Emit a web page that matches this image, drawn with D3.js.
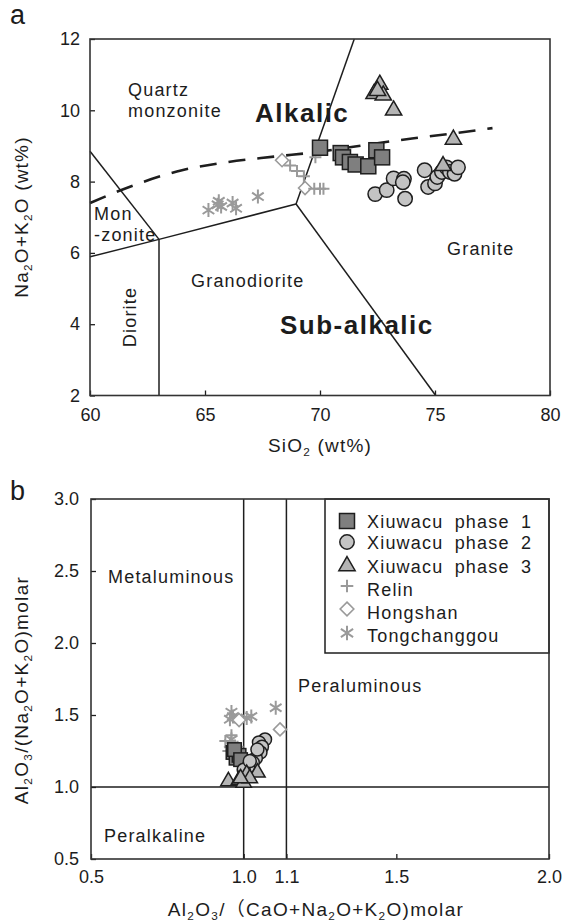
<!DOCTYPE html>
<html><head><meta charset="utf-8">
<script src="https://cdn.jsdelivr.net/npm/d3@7"></script>
<style>
body{margin:0;background:#fff}
svg text{font-family:"Liberation Sans",Arial,"Noto Sans CJK SC",sans-serif;fill:#1c1c1c}
</style>
</head><body>
<svg id="c" width="573" height="924"></svg>
<script>
// ---------- Panel a data (SiO2 wt%, Na2O+K2O wt%) ----------
const phase1A = [[70.0,8.95],[70.9,8.8],[71.0,8.68],[71.3,8.55],[71.55,8.48],[72.1,8.43],[72.45,8.88],[72.7,8.68]];
const phase2A = [[72.4,7.65],[72.9,7.76],[73.2,8.09],[73.65,8.08],[73.6,7.98],[73.7,7.52],[74.55,8.32],[74.7,7.85],[75.0,7.95],[75.1,8.13],[75.3,8.27],[75.5,8.4],[75.65,8.27],[75.85,8.22],[76.0,8.4]];
const phase3A = [[72.6,10.72],[72.35,10.46],[72.75,10.42],[72.5,10.55],[73.2,10.0],[75.8,9.18],[75.35,8.44]];
const relinA = [[68.7,8.45],[69.0,8.3],[69.3,8.15],[69.8,8.68],[69.75,7.8],[70.0,7.8],[70.15,7.8]];
const hongshanA = [[68.35,8.6],[69.35,7.82]];
const tongA = [[65.15,7.2],[65.6,7.45],[65.7,7.3],[65.55,7.35],[66.2,7.4],[66.35,7.25],[67.3,7.58]];
// TAS field boundaries and alkaline / sub-alkaline curve
const tasLines = [
  [[60,8.85],[63,6.38]],
  [[60,5.89],[63,6.38],[68.96,7.37]],
  [[63,6.38],[63,2]],
  [[68.96,7.37],[71.49,12]],
  [[68.96,7.37],[75.03,2]]
];
const alkalineCurve = [[60,7.40],[62,7.92],[64,8.32],[66,8.55],[68,8.70],[70,8.84],[72,9.03],[74,9.21],[76,9.37],[77.5,9.5]];
const xTicksA = [60,65,70,75,80];
const yTicksA = [2,4,6,8,10,12];

// ---------- Panel b data (A/CNK, A/NK) ----------
const phase1B = [[0.965,1.24],[0.975,1.2],[0.985,1.22],[0.97,1.26],[0.99,1.19]];
const phase2B = [[1.07,1.33],[1.05,1.31],[1.06,1.28],[1.055,1.24],[1.04,1.2],[1.03,1.17],[1.015,1.14],[1.0,1.12],[1.045,1.26],[1.02,1.18]];
const phase3B = [[0.95,1.04],[0.985,1.05],[1.0,1.03],[1.01,1.09],[1.045,1.1],[1.02,1.06],[0.99,1.06]];
const relinB = [[0.94,1.32],[0.96,1.36],[0.98,1.28],[0.95,1.25]];
const hongshanB = [[1.119,1.4],[0.985,1.465]];
const tongB = [[0.96,1.52],[0.955,1.47],[0.965,1.49],[1.01,1.48],[1.025,1.49],[1.105,1.55],[0.96,1.33],[0.955,1.3]];
const xLinesB = [1.0, 1.14];
const yLinesB = [1.0];
const xTicksB = [0.5,1.0,1.14,1.5,2.0];
const xTickLabelsB = ["0.5","1.0","1.1","1.5","2.0"];
const yTicksB = [0.5,1.0,1.5,2.0,2.5,3.0];
const legendNames = ["Xiuwacu phase 1","Xiuwacu phase 2","Xiuwacu phase 3","Relin","Hongshan","Tongchanggou"];

const svg = d3.select("#c");
const FS = 18;

// symbol drawing
const dark = "#1e1e1e", grey = "#9a9a9a";
function plusPath(s){return `M${-s},0H${s}M0,${-s}V${s}`;}
function diamondPath(s){return `M0,${-s}L${s},0L0,${s}L${-s},0Z`;}
function asteriskPath(s){
  const a = s*Math.sin(Math.PI/3.2), b = s*Math.cos(Math.PI/3.2);
  return `M0,${-s}V${s}M${-a},${-b}L${a},${b}M${-a},${b}L${a},${-b}`;
}
const styles = [
  {kind:"square"},{kind:"circle"},{kind:"triangle"},
  {kind:"plus"},{kind:"diamond"},{kind:"asterisk"}
];
function drawSym(g, kind, x, y, k){
  k = k||1;
  if(kind==="square") g.append("rect").attr("x",x-7.5*k).attr("y",y-7.5*k).attr("width",15*k).attr("height",15*k).attr("fill","#7f7f7f").attr("stroke",dark).attr("stroke-width",1.5);
  else if(kind==="circle") g.append("circle").attr("cx",x).attr("cy",y).attr("r",7.2*k).attr("fill","#c4c4c4").attr("stroke",dark).attr("stroke-width",1.5);
  else if(kind==="triangle") g.append("path").attr("transform",`translate(${x},${y})`).attr("d",d3.symbol(d3.symbolTriangle, 115*k*k)()).attr("fill","#b4b4b4").attr("stroke",dark).attr("stroke-width",1.5).attr("stroke-linejoin","miter");
  else if(kind==="plus") g.append("path").attr("transform",`translate(${x},${y})`).attr("d",plusPath(6*k)).attr("fill","none").attr("stroke",grey).attr("stroke-width",2);
  else if(kind==="diamond") g.append("path").attr("transform",`translate(${x},${y})`).attr("d",diamondPath(6.5*k)).attr("fill","#fff").attr("stroke",grey).attr("stroke-width",1.6);
  else if(kind==="asterisk") g.append("path").attr("transform",`translate(${x},${y})`).attr("d",asteriskPath(7*k)).attr("fill","none").attr("stroke",grey).attr("stroke-width",2);
}

function subText(sel, parts, fs){
  parts.forEach(p=>{
    const t = sel.append("tspan").text(p[0]);
    if(p[1]) t.attr("font-size",fs*0.62).attr("baseline-shift","-30%");
  });
}

function styleAxis(g){
  g.select(".domain").remove();
  g.selectAll(".tick line").attr("stroke",dark).attr("stroke-width",1.3);
  g.selectAll(".tick text").attr("font-size",FS).attr("font-family",'"Liberation Sans",Arial,sans-serif').attr("fill","#1c1c1c");
}

// ================= Panel a =================
const xA = d3.scaleLinear([60,80],[90,550]);
const yA = d3.scaleLinear([2,12],[395.5,39]);
const gA = svg.append("g");
gA.append("text").attr("x",10).attr("y",24).attr("font-size",27).text("a");

const axBA = d3.axisBottom(xA).tickValues(xTicksA).tickFormat(d3.format("d")).tickSizeInner(-5).tickSizeOuter(0).tickPadding(13);
const axLA = d3.axisLeft(yA).tickValues(yTicksA).tickFormat(d3.format("d")).tickSizeInner(-5).tickSizeOuter(0).tickPadding(10);
gA.append("g").attr("transform",`translate(0,${yA(2)})`).call(axBA).call(styleAxis);
gA.append("g").attr("transform",`translate(${xA(60)},0)`).call(axLA).call(styleAxis);

const lineA = d3.line().x(d=>xA(d[0])).y(d=>yA(d[1]));
tasLines.forEach(l=>gA.append("path").attr("d",lineA(l)).attr("fill","none").attr("stroke",dark).attr("stroke-width",1.5));
gA.append("path").attr("d",d3.line().curve(d3.curveMonotoneX).x(d=>xA(d[0])).y(d=>yA(d[1]))(alkalineCurve))
  .attr("fill","none").attr("stroke",dark).attr("stroke-width",2.6).attr("stroke-dasharray","17,12");

// field labels
const lbl = (g,x,y,t,opt)=>{opt=opt||{};const e=g.append("text").attr("x",x).attr("y",y).attr("font-size",opt.fs||FS).attr("letter-spacing",opt.ls==null?1.2:opt.ls).text(t);if(opt.bold)e.attr("font-weight","bold");if(opt.rot)e.attr("transform",`rotate(-90,${x},${y})`).attr("text-anchor","middle");return e;};
lbl(gA,128,96,"Quartz");
lbl(gA,128,117,"monzonite");
lbl(gA,255,122,"Alkalic",{fs:26,bold:true,ls:1.5});
lbl(gA,94,220,"Mon");
lbl(gA,94,241,"-zonite");
lbl(gA,136,317,"Diorite",{rot:true});
lbl(gA,191,287,"Granodiorite");
lbl(gA,447,255,"Granite");
lbl(gA,280,334,"Sub-alkalic",{fs:26,bold:true,ls:1.5});

// data points a
const pa = gA.append("g");
tongA.forEach(d=>drawSym(pa,"asterisk",xA(d[0]),yA(d[1])));
hongshanA.forEach(d=>drawSym(pa,"diamond",xA(d[0]),yA(d[1])));
relinA.forEach(d=>drawSym(pa,"plus",xA(d[0]),yA(d[1])));
phase1A.forEach(d=>drawSym(pa,"square",xA(d[0]),yA(d[1])));
phase2A.forEach(d=>drawSym(pa,"circle",xA(d[0]),yA(d[1])));
phase3A.forEach(d=>drawSym(pa,"triangle",xA(d[0]),yA(d[1])));

gA.append("rect").attr("x",xA(60)).attr("y",yA(12)).attr("width",xA(80)-xA(60)).attr("height",yA(2)-yA(12)).attr("fill","none").attr("stroke","#333").attr("stroke-width",1.6);

// axis titles a
const TF = 19;
const tA = gA.append("text").attr("x",320).attr("y",452).attr("text-anchor","middle").attr("font-size",TF).attr("letter-spacing",1.2);
subText(tA,[["SiO",0],["2",1],[" (wt%)",0]],TF);
const tAy = gA.append("text").attr("transform","translate(28,217) rotate(-90)").attr("text-anchor","middle").attr("font-size",TF).attr("letter-spacing",1.2);
subText(tAy,[["Na",0],["2",1],["O+K",0],["2",1],["O (wt%)",0]],TF);

// ================= Panel b =================
const xB = d3.scaleLinear([0.5,2.0],[91,549]);
const yB = d3.scaleLinear([0.5,3.0],[859,499]);
const gB = svg.append("g");
gB.append("text").attr("x",10).attr("y",500).attr("font-size",27).text("b");

const axBB = d3.axisBottom(xB).tickValues(xTicksB).tickFormat((d,i)=>xTickLabelsB[i]).tickSizeInner(-5).tickSizeOuter(0).tickPadding(11);
const axLB = d3.axisLeft(yB).tickValues(yTicksB).tickFormat(d3.format(".1f")).tickSizeInner(-5).tickSizeOuter(0).tickPadding(12);
gB.append("g").attr("transform",`translate(0,${yB(0.5)})`).call(axBB).call(styleAxis);
gB.append("g").attr("transform",`translate(${xB(0.5)},0)`).call(axLB).call(styleAxis);

xLinesB.forEach(v=>gB.append("line").attr("x1",xB(v)).attr("x2",xB(v)).attr("y1",yB(0.5)).attr("y2",yB(3)).attr("stroke",dark).attr("stroke-width",1.5));
yLinesB.forEach(v=>gB.append("line").attr("x1",xB(0.5)).attr("x2",xB(2)).attr("y1",yB(v)).attr("y2",yB(v)).attr("stroke",dark).attr("stroke-width",1.5));

lbl(gB,108,583,"Metaluminous");
lbl(gB,298,692,"Peraluminous");
lbl(gB,104,842,"Peralkaline");

const pb = gB.append("g");
tongB.forEach(d=>drawSym(pb,"asterisk",xB(d[0]),yB(d[1])));
hongshanB.forEach(d=>drawSym(pb,"diamond",xB(d[0]),yB(d[1])));
relinB.forEach(d=>drawSym(pb,"plus",xB(d[0]),yB(d[1])));
phase1B.forEach(d=>drawSym(pb,"square",xB(d[0]),yB(d[1]),0.9));
phase2B.forEach(d=>drawSym(pb,"circle",xB(d[0]),yB(d[1]),0.9));
phase3B.forEach(d=>drawSym(pb,"triangle",xB(d[0]),yB(d[1]),0.95));

// legend
const lg = gB.append("g");
lg.append("rect").attr("x",325).attr("y",yB(3)).attr("width",xB(2)-325).attr("height",154).attr("fill","#fff").attr("stroke",dark).attr("stroke-width",1.5);
const legY = [521,542,566,589,612,635];
const legSymDy = [0,0,0,-3,-3,-2];
legendNames.forEach((n,i)=>{
  drawSym(lg, styles[i].kind, 347, legY[i]+legSymDy[i], i<3?1:1.05);
  lg.append("text").attr("x",367).attr("y",legY[i]+6.5).attr("font-size",FS).attr("letter-spacing",1.2).attr("word-spacing",5).text(n);
});

gB.append("rect").attr("x",xB(0.5)).attr("y",yB(3)).attr("width",xB(2)-xB(0.5)).attr("height",yB(0.5)-yB(3)).attr("fill","none").attr("stroke","#333").attr("stroke-width",1.6);

const tB = gB.append("text").attr("x",316).attr("y",916).attr("text-anchor","middle").attr("font-size",TF).attr("letter-spacing",1.3);
subText(tB,[["Al",0],["2",1],["O",0],["3",1],["/（CaO+Na",0],["2",1],["O+K",0],["2",1],["O)molar",0]],TF);
const tBy = gB.append("text").attr("transform","translate(28,690) rotate(-90)").attr("text-anchor","middle").attr("font-size",TF).attr("letter-spacing",1.3);
subText(tBy,[["Al",0],["2",1],["O",0],["3",1],["/(Na",0],["2",1],["O+K",0],["2",1],["O)molar",0]],TF);
</script>
</body></html>
